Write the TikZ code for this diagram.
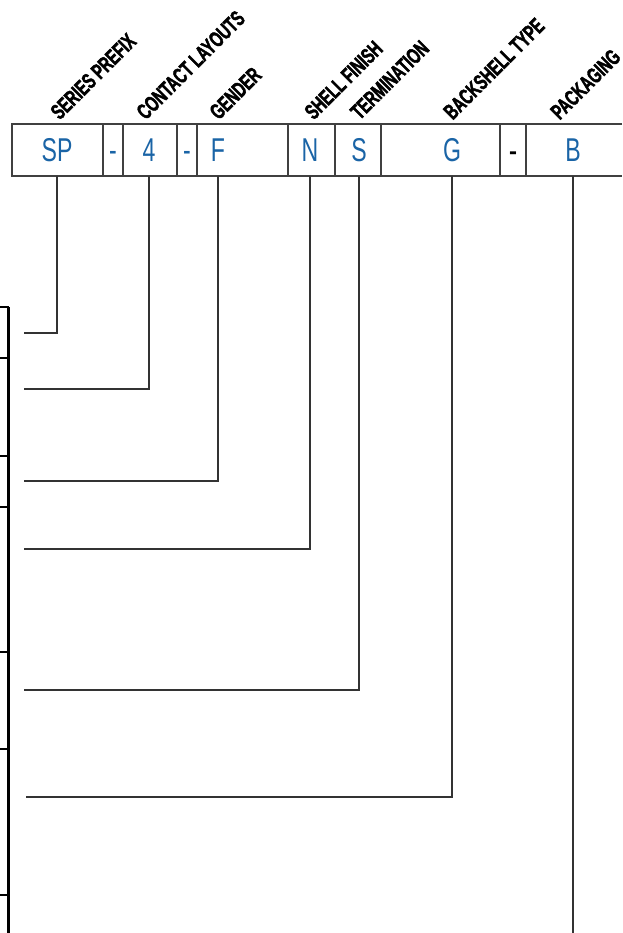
\documentclass[tikz,border=0pt]{standalone}
\usepackage{fontspec}
\setmainfont{Liberation Sans}
\newfontfamily\codefont[FakeStretch=0.7]{Liberation Sans}
\newfontfamily\fieldfont[FakeStretch=0.66,FakeBold=2,UprightFont=* Bold]{Liberation Sans}
\definecolor{codeblue}{HTML}{1A64A6}
\tikzstyle{code}=[text=codeblue, font=\codefont\fontsize{33}{33}\selectfont, anchor=base, inner sep=0pt]
\tikzstyle{field}=[font=\fieldfont\fontsize{22}{22}\selectfont, rotate=45, anchor=south west, inner sep=0pt]
\tikzstyle{lead}=[draw=black!80, line width=1.2pt]
\tikzstyle{frame}=[draw=black!75, line width=1.5pt]

\begin{document}
\begin{tikzpicture}[x=1pt,y=-1pt]
	\useasboundingbox (0,0) rectangle (622,933);
	\clip (0,0) rectangle (622,933);
	\coordinate (rowb) at (0,176);
	\coordinate (bot) at (0,933);
	% ordering row
	\draw[frame] (622,124) -- (12,124) -- (12,176) -- (622,176);
	\foreach \x in {103,123,177,197,288,335,381,500,526}
		\draw[frame] (\x,124) -- (\x,176);
	\node[code] (sp) at (57,162) {SP};
	\node[code] (d1) at (113,162) {-};
	\node[code] (cl) at (149,162) {4};
	\node[code] (d2) at (187,162) {-};
	\node[code] (gn) at (218,162) {F};
	\node[code] (sf) at (310,162) {N};
	\node[code] (tm) at (359,162) {S};
	\node[code] (bs) at (452,162) {G};
	\node[code, text=black, font=\bfseries\fontsize{24}{24}\selectfont] (d3) at (513,160) {-};
	\node[code] (pk) at (573,162) {B};
	% field names
	\node[field] (lsp) at (60,121) {SERIES PREFIX};
	\node[field] (lcl) at (146,121) {CONTACT LAYOUTS};
	\node[field] (lgn) at (219,121) {GENDER};
	\node[field] (lsf) at (314,121) {SHELL FINISH};
	\node[field] (ltm) at (360,121) {TERMINATION};
	\node[field] (lbs) at (453,121) {BACKSHELL TYPE};
	\node[field] (lpk) at (560,121) {PACKAGING};
	% leads to the table
	\coordinate (esp) at (24,333);
	\coordinate (ecl) at (24,389);
	\coordinate (egn) at (24,481);
	\coordinate (esf) at (24,549);
	\coordinate (etm) at (24,690);
	\coordinate (ebs) at (26,797);
	\draw[lead] (sp |- rowb) |- (esp);
	\draw[lead] (cl |- rowb) |- (ecl);
	\draw[lead] (gn |- rowb) |- (egn);
	\draw[lead] (sf |- rowb) |- (esf);
	\draw[lead] (tm |- rowb) |- (etm);
	\draw[lead] (bs |- rowb) |- (ebs);
	\draw[lead] (pk |- rowb) -- (pk |- bot);
	% table edge
	\draw[line width=2.4pt] (8.5,307) -- (8.5,933);
	\foreach \y in {307,358,456,507,652,749,895}
		\draw[line width=2.4pt] (0,\y) -- (8.5,\y);
\end{tikzpicture}
\end{document}
